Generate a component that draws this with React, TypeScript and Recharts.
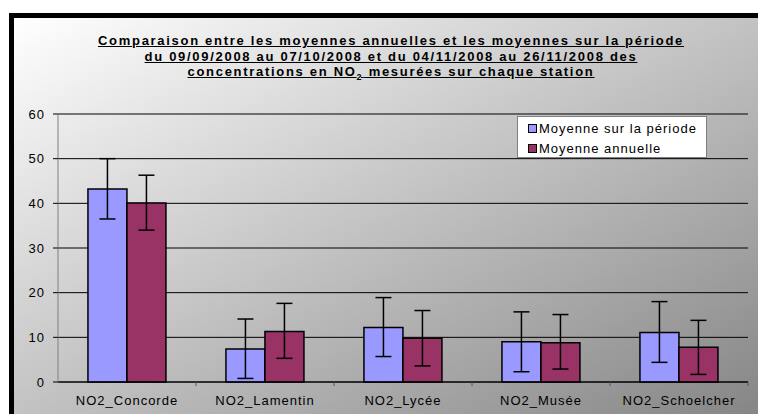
import React from "react";
import {
  BarChart,
  Bar,
  XAxis,
  YAxis,
  CartesianGrid,
  ErrorBar,
  Legend,
} from "recharts";

// stations on the x axis
const stations = [
  "NO2_Concorde",
  "NO2_Lamentin",
  "NO2_Lycée",
  "NO2_Musée",
  "NO2_Schoelcher",
];

const seriesNames = ["Moyenne sur la période", "Moyenne annuelle"];

// "Moyenne sur la période"
const periodMean = [43.2, 7.4, 12.2, 9.0, 11.1];
const periodLow = [36.5, 0.8, 5.7, 2.3, 4.4];
const periodHigh = [50.0, 14.1, 18.9, 15.7, 18.0];

// "Moyenne annuelle"
const annualMean = [40.1, 11.3, 9.8, 8.8, 7.8];
const annualLow = [34.0, 5.3, 3.6, 2.9, 1.7];
const annualHigh = [46.3, 17.6, 16.0, 15.1, 13.8];

const yTicks = [0, 10, 20, 30, 40, 50, 60];

const chartData = stations.map((name, i) => ({
  name,
  periode: periodMean[i],
  annuelle: annualMean[i],
  errP: [periodMean[i] - periodLow[i], periodHigh[i] - periodMean[i]],
  errA: [annualMean[i] - annualLow[i], annualHigh[i] - annualMean[i]],
}));

const FONT = "'Liberation Sans', Arial, sans-serif";
const TICK_MARGIN = 14;

const LegendBox = ({ payload }: any) => {
  const items = [...(payload || [])].sort(
    (a: any, b: any) => seriesNames.indexOf(a.value) - seriesNames.indexOf(b.value)
  );
  return (
    <div
      style={{
        background: "#fff",
        border: "1px solid #7f7f7f",
        width: 190,
        height: 42,
        boxSizing: "border-box",
        paddingLeft: 10,
        paddingTop: 1,
        fontFamily: FONT,
        fontSize: 13,
        letterSpacing: 1,
        color: "#000",
      }}
    >
      {items.map((p: any) => (
        <div
          key={p.value}
          style={{ display: "flex", alignItems: "center", height: 20 }}
        >
          <span
            style={{
              display: "inline-block",
              width: 7,
              height: 7,
              background: p.color,
              border: "1px solid #000",
              marginRight: 2,
            }}
          />
          {p.value}
        </div>
      ))}
    </div>
  );
};

// category label plus a small tick mark on the right boundary of the band
const StationTick = (props: any) => {
  const { x, y, payload, width, visibleTicksCount } = props;
  const half = width / visibleTicksCount / 2;
  const axisY = y - TICK_MARGIN;
  return (
    <g>
      <line
        x1={x + half}
        x2={x + half}
        y1={axisY}
        y2={axisY + 4}
        stroke="#555"
        strokeWidth={1}
      />
      <text
        x={x}
        y={y}
        dy="0.71em"
        textAnchor="middle"
        fill="#000"
        fontSize={13}
        fontFamily={FONT}
        letterSpacing={1}
      >
        {payload.value}
      </text>
    </g>
  );
};

export default function App() {
  return (
    <div
      style={{
        position: "fixed",
        left: 0,
        top: 0,
        width: 758,
        height: 414,
        overflow: "hidden",
        background: "#fff",
      }}
    >
      <div
        style={{
          position: "absolute",
          left: 9,
          top: 13,
          right: 0,
          bottom: 0,
          borderLeft: "5px solid #000",
          borderTop: "5px solid #000",
          background: "linear-gradient(to bottom right, #ffffff, #868686)",
        }}
      />
      <div
        style={{
          position: "absolute",
          left: 0,
          top: 33,
          width: 782,
          textAlign: "center",
          fontFamily: FONT,
          fontWeight: "bold",
          fontSize: 13,
          letterSpacing: 1.7,
          lineHeight: "15.5px",
          textDecoration: "underline",
          color: "#000",
        }}
      >
        Comparaison entre les moyennes annuelles et les moyennes sur la période
        <br />
        du 09/09/2008 au 07/10/2008 et du 04/11/2008 au 26/11/2008 des
        <br />
        concentrations en NO
        <span style={{ fontSize: 9, verticalAlign: "sub" }}>2</span> mesurées
        sur chaque station
      </div>
      <div style={{ position: "absolute", left: 0, top: 0 }}>
        <BarChart
          width={758}
          height={414}
          data={chartData}
          margin={{ top: 114, right: 10, left: 0, bottom: 12 }}
          barCategoryGap="21.7%"
          barGap={0}
        >
          <CartesianGrid vertical={false} stroke="#000" strokeWidth={1} />
          <XAxis
            dataKey="name"
            height={20}
            axisLine={{ stroke: "#000" }}
            tickLine={false}
            tickSize={0}
            tickMargin={TICK_MARGIN}
            interval={0}
            tick={<StationTick />}
          />
          <YAxis
            width={58}
            domain={[0, 60]}
            ticks={yTicks}
            axisLine={{ stroke: "#808080" }}
            tickLine={{ stroke: "#000" }}
            tickSize={5}
            tickMargin={8}
            tick={{
              fill: "#000",
              fontSize: 13,
              fontFamily: FONT,
              letterSpacing: 1,
            }}
          />
          <Legend
            layout="horizontal"
            verticalAlign="middle"
            align="center"
            content={<LegendBox />}
            wrapperStyle={{
              position: "absolute",
              left: 517,
              top: 116,
              width: 190,
              height: 42,
            }}
          />
          <Bar
            dataKey="periode"
            name={seriesNames[0]}
            fill="#9999FF"
            stroke="#000"
            strokeWidth={1.5}
            isAnimationActive={false}
          >
            <ErrorBar
              dataKey="errP"
              width={8}
              strokeWidth={1.5}
              stroke="#000"
              direction="y"
            />
          </Bar>
          <Bar
            dataKey="annuelle"
            name={seriesNames[1]}
            fill="#993366"
            stroke="#000"
            strokeWidth={1.5}
            isAnimationActive={false}
          >
            <ErrorBar
              dataKey="errA"
              width={8}
              strokeWidth={1.5}
              stroke="#000"
              direction="y"
            />
          </Bar>
        </BarChart>
      </div>
    </div>
  );
}
